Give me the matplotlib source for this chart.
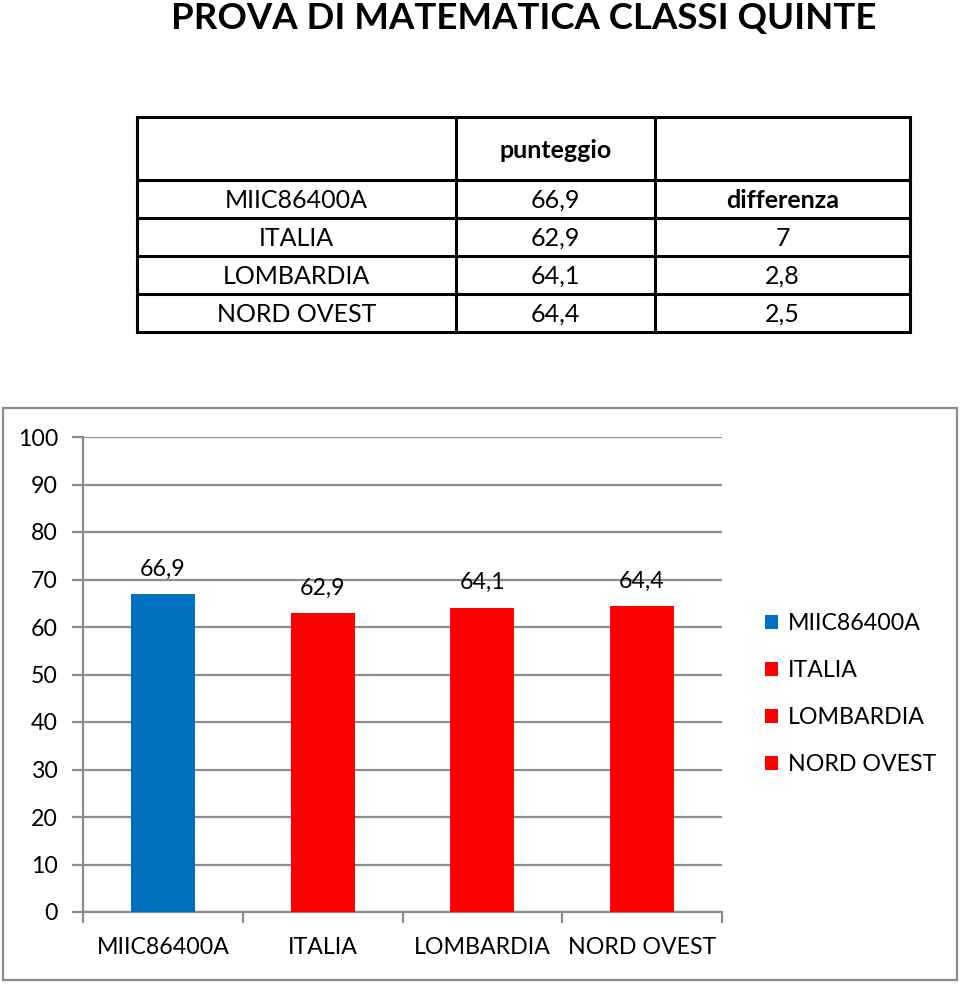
import matplotlib
matplotlib.use("Agg")
import matplotlib.pyplot as plt
from matplotlib.lines import Line2D
from matplotlib.patches import Rectangle, Patch

plt.rcParams['font.family'] = ['Lato', 'DejaVu Sans']

title = "PROVA DI MATEMATICA CLASSI QUINTE"
categories = ["MIIC86400A", "ITALIA", "LOMBARDIA", "NORD OVEST"]
scores = [66.9, 62.9, 64.1, 64.4]
score_labels = ["66,9", "62,9", "64,1", "64,4"]
differences = ["differenza", "7", "2,8", "2,5"]
table_header = ["", "punteggio", ""]
bar_colors = ["#0070C0", "#FF0000", "#FF0000", "#FF0000"]
yticks = list(range(0, 101, 10))

W, H = 960, 985
fig = plt.figure(figsize=(W / 100, H / 100), dpi=100)

def fx(x):
    return x / W

def fy(y):
    return 1 - y / H

# Title
fig.text(fx(524), fy(19), title, ha='center', va='center', fontsize=26.4,
         fontweight='bold')

# Table
col_x = [137, 456, 655, 910]
row_y = [117, 180, 218, 256, 294, 332]
for x in col_x:
    fig.add_artist(Line2D([fx(x), fx(x)], [fy(row_y[0]), fy(row_y[-1])],
                          color='black', lw=2.2))
for y in row_y:
    fig.add_artist(Line2D([fx(col_x[0]), fx(col_x[-1])], [fy(y), fy(y)],
                          color='black', lw=2.2))
centers = [(col_x[i] + col_x[i + 1]) / 2 for i in range(3)]
fs_tab = 18
for i, h in enumerate(table_header):
    if h:
        fig.text(fx(centers[i]), fy((row_y[0] + row_y[1]) / 2 + 2), h,
                 ha='center', va='center', fontsize=fs_tab, fontweight='bold')
for r, (cat, lab, diff) in enumerate(zip(categories, score_labels, differences)):
    yc = fy((row_y[r + 1] + row_y[r + 2]) / 2 + 1)
    fig.text(fx(centers[0]), yc, cat, ha='center', va='center', fontsize=fs_tab)
    fig.text(fx(centers[1]), yc, lab, ha='center', va='center', fontsize=fs_tab)
    fig.text(fx(centers[2]), yc, diff, ha='center', va='center', fontsize=fs_tab,
             fontweight='bold' if r == 0 else 'normal')

# Chart border
fig.add_artist(Rectangle((fx(3), fy(980)), fx(954), (980 - 408) / H,
                         transform=fig.transFigure, fill=False,
                         edgecolor='#8c8c8c', lw=1.6))

# Axes
fs = 16.7
ax = fig.add_axes([fx(83), fy(912), fx(722 - 83), (912 - 437) / H])
x = list(range(len(categories)))
ax.bar(x, scores, width=0.4, color=bar_colors, zorder=3)
ax.set_xlim(-0.5, len(categories) - 0.5)
ax.set_ylim(0, 100)
ax.set_yticks(yticks)
ax.set_yticklabels([str(t) for t in yticks], fontsize=fs)
ax.tick_params(axis='y', length=8, width=1.6, color='#8c8c8c', pad=10)
ax.grid(axis='y', color='#8c8c8c', lw=1.6, zorder=0)
ax.set_xticks(x)
ax.set_xticklabels(categories, fontsize=fs)
ax.tick_params(axis='x', which='major', length=0, pad=18)
ax.set_xticks([i - 0.5 for i in range(len(categories) + 1)], minor=True)
ax.tick_params(axis='x', which='minor', length=8, width=1.6, color='#8c8c8c')
for s in ['top', 'right']:
    ax.spines[s].set_visible(False)
for s in ['left', 'bottom']:
    ax.spines[s].set_color('#8c8c8c')
    ax.spines[s].set_linewidth(1.6)
ax.set_axisbelow(True)
for xi, v, lab in zip(x, scores, score_labels):
    ax.annotate(lab, (xi, v), xytext=(0, 25), textcoords='offset pixels',
                ha='center', va='center', fontsize=fs)

# Legend
handles = [Patch(facecolor=c, edgecolor='none') for c in bar_colors]
fig.legend(handles, categories, loc='center left',
           bbox_to_anchor=(fx(765), fy(694)), frameon=False, fontsize=fs,
           handlelength=0.58, handleheight=0.58, handletextpad=0.4,
           labelspacing=1.12, borderpad=0, borderaxespad=0)

fig.savefig("out.png", dpi=100)
